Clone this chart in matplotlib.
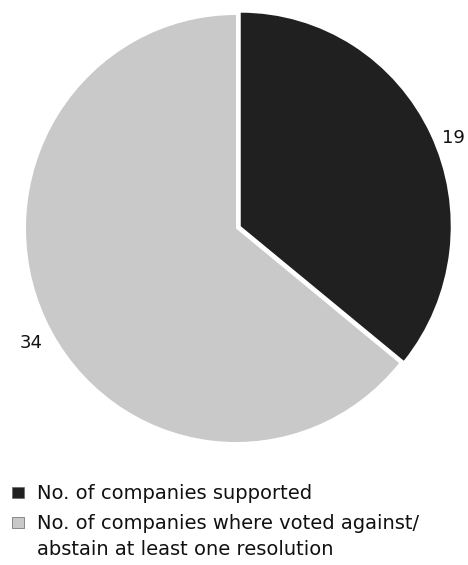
import matplotlib.pyplot as plt
from matplotlib.patches import Rectangle
from matplotlib.transforms import ScaledTranslation

plt.rcParams['font.family'] = ['DejaVu Sans']

categories = ['No. of companies supported',
              'No. of companies where voted against/\nabstain at least one resolution']
counts = [19, 34]
colors = ['#202020', '#c9c9c9']

W, H = 468, 565
fig = plt.figure(figsize=(W / 100, H / 100), dpi=100)
# pie sits in a slightly taller-than-wide box, as printed
ax = fig.add_axes([26 / W, (H - 442) / H, 420 / W, 427 / H])

wedges, texts = ax.pie(counts, labels=[str(c) for c in counts], colors=colors,
                       startangle=90, counterclock=False, explode=[0.025, 0],
                       labeldistance=1.1,
                       textprops={'fontsize': 13, 'color': '#111111'})
ax.set_xlim(-1, 1)
ax.set_ylim(-1, 1)
ax.set_aspect('auto')

# nudge the value labels a little right and down
shift = ScaledTranslation(4 / 100, -13 / 100, fig.dpi_scale_trans)
for t in texts:
    t.set_ha('center')
    t.set_va('center')
    t.set_transform(t.get_transform() + shift)

# legend: square swatch on the first line of each entry
baselines = [499, 529]
line_pitch = 26
for label, color, yb in zip(categories, colors, baselines):
    fig.add_artist(Rectangle((12 / W, (H - yb + 1) / H), 12 / W, 11 / H,
                             transform=fig.transFigure, facecolor=color,
                             edgecolor='#666666', linewidth=0.5))
    # multi-line text is anchored on its last baseline
    y_last = yb + label.count('\n') * line_pitch
    fig.text(37 / W, (H - y_last) / H, label, fontsize=14, color='#111111',
             ha='left', va='baseline', linespacing=1.45)

fig.savefig('out.png', dpi=100)
